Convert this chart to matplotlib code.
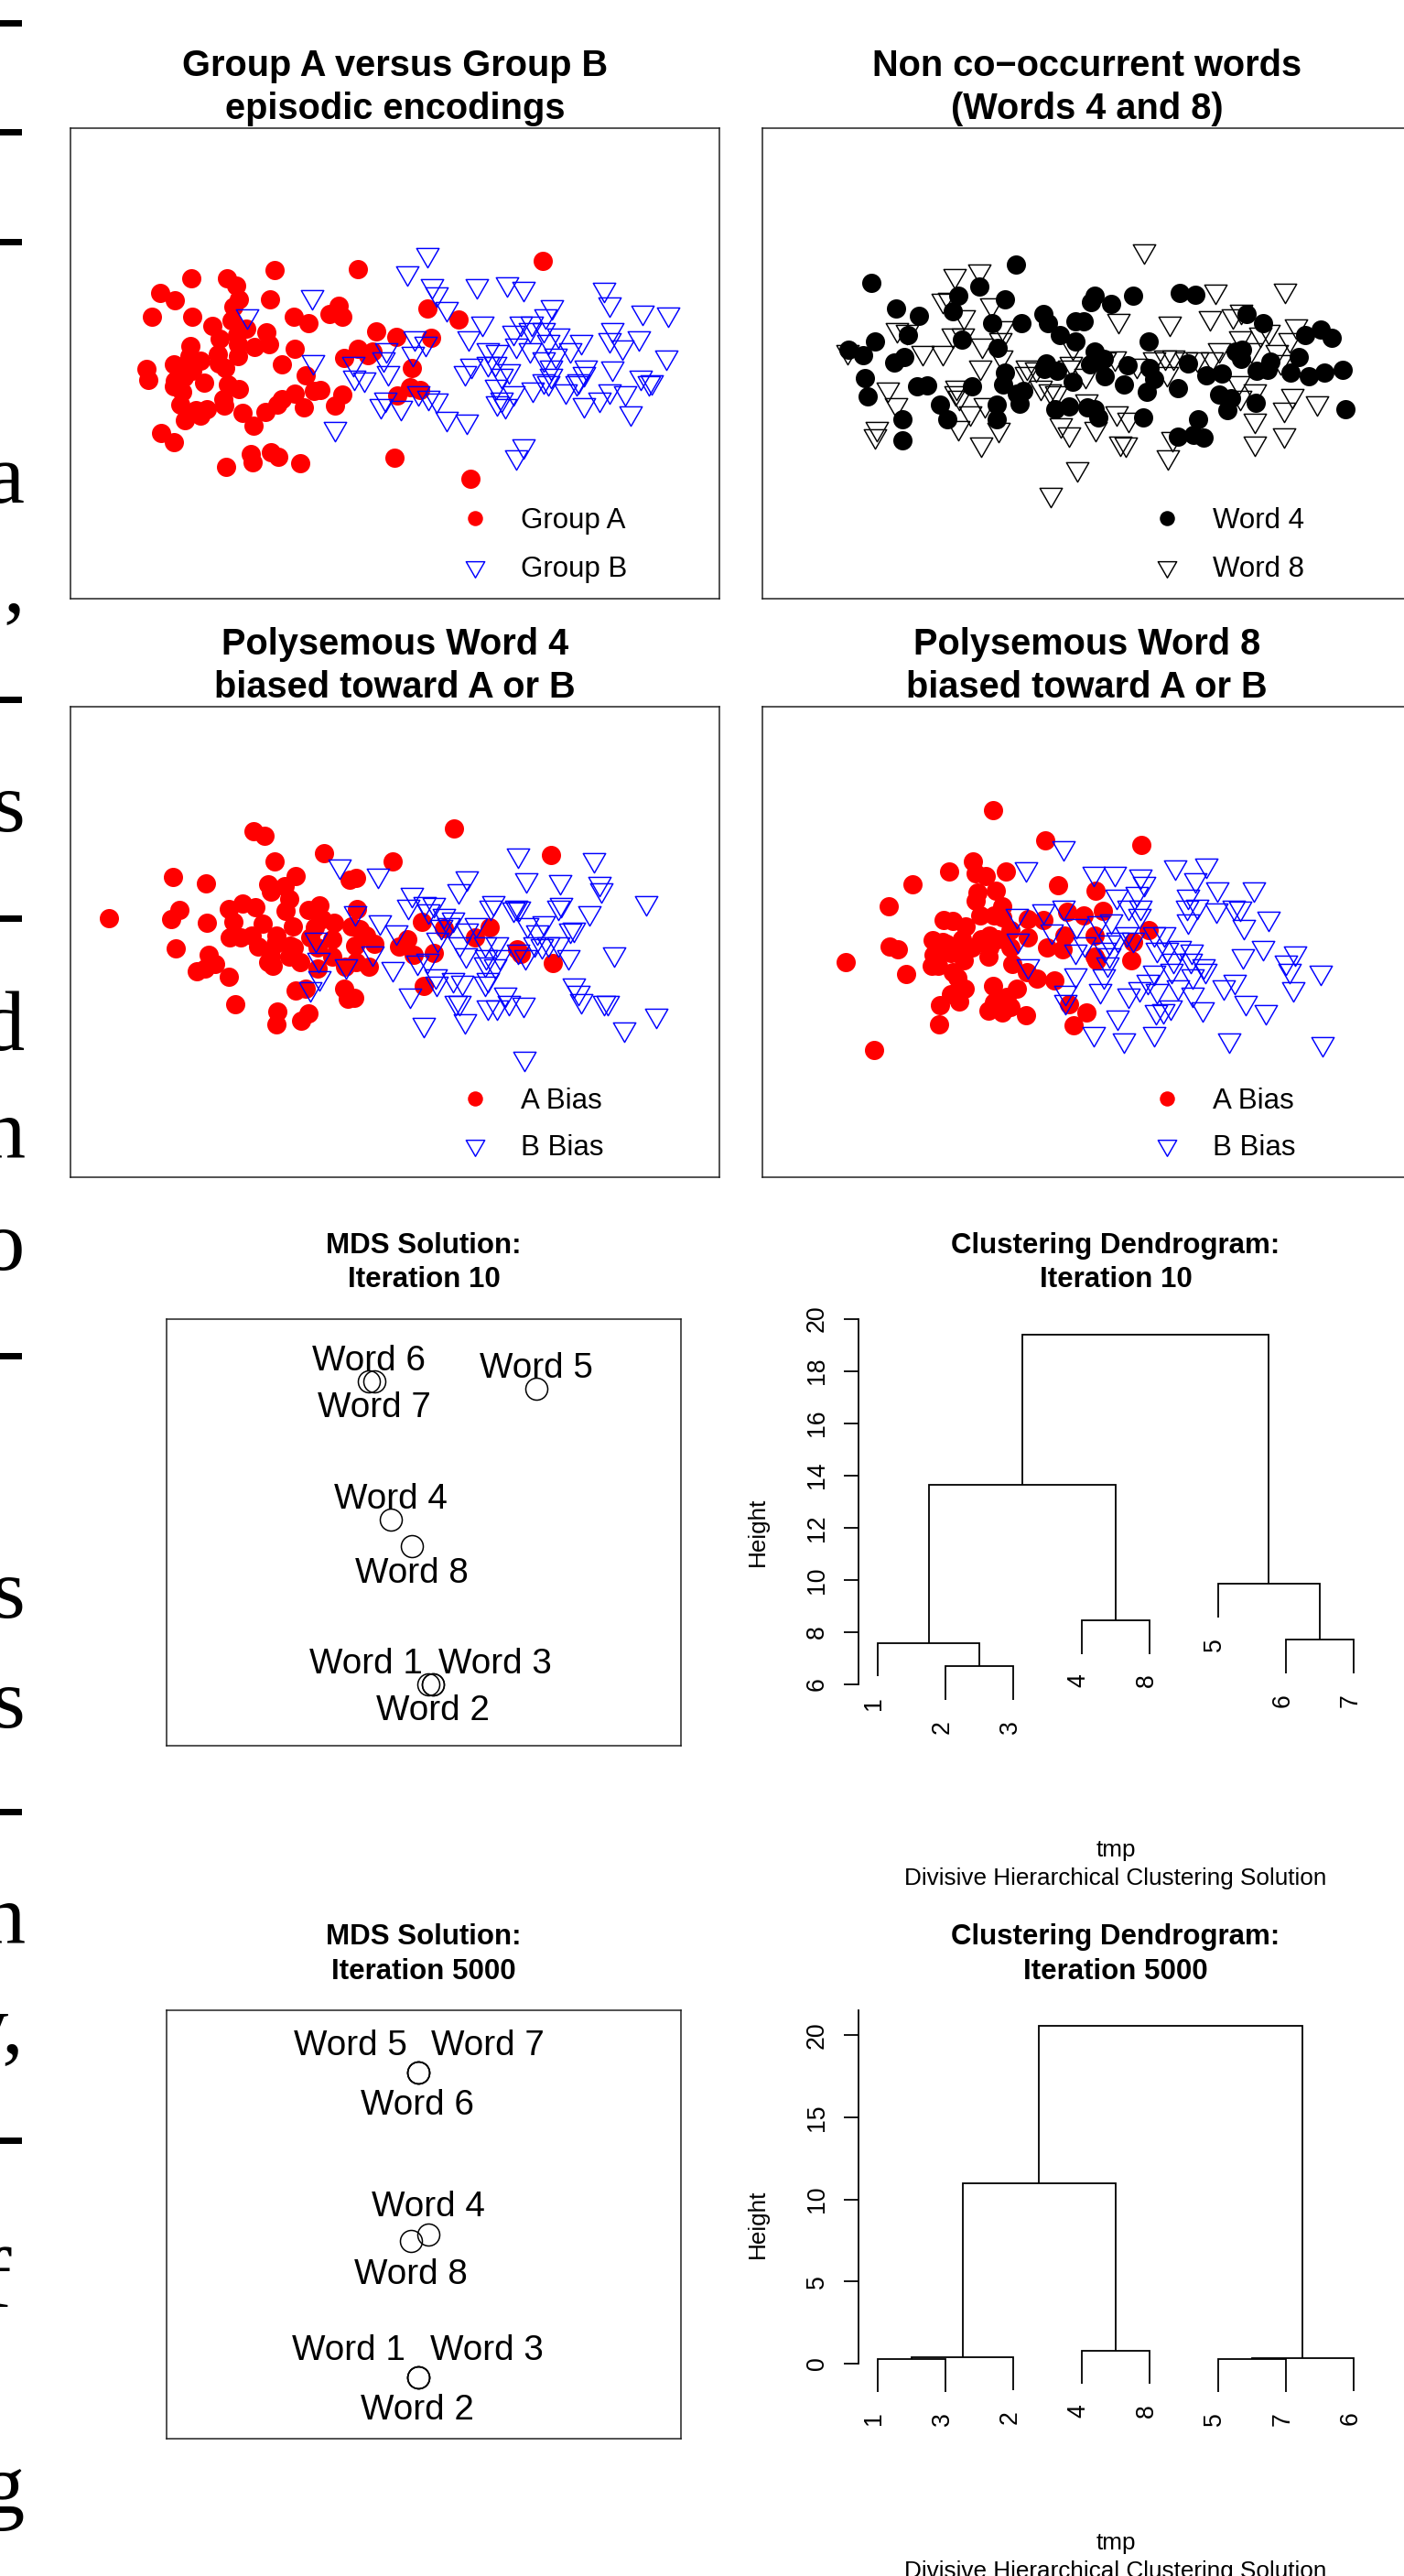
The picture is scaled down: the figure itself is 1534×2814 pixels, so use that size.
import matplotlib
matplotlib.use("Agg")
import matplotlib.pyplot as plt
from matplotlib.lines import Line2D
from matplotlib.path import Path

W, H = 1534, 2814
DPI = 100
plt.rcParams['font.family'] = ['Liberation Sans', 'DejaVu Sans']

# ---- Data (in the arbitrary units of each unlabelled panel)
groupA = [(313,930),(318,957),(343,738),(375,757),(326,798),(410,701),(486,702),(505,719),(512,754),(500,773),(496,806),(412,798),(454,821),(471,853),(528,827),(508,845),(510,868),(408,872),(570,838),(577,866),(545,873),(630,798),(661,814),(579,755),(589,681),(766,679),(706,790),(725,770),(734,798),(806,834),(849,848),(916,776),(982,804),(924,852),(1163,658),(631,878),(604,918),(510,897),(466,893),(468,915),(483,927),(430,908),(405,897),(373,918),(400,925),(412,935),(385,945),(375,960),(373,972),(395,950),(438,963),(488,968),(511,980),(390,988),(387,1020),(420,1033),(430,1048),(444,1030),(396,1058),(478,1005),(481,1022),(519,1040),(568,1038),(595,1020),(604,1005),(632,991),(651,1027),(672,985),(686,982),(654,945),(718,1022),(734,994),(737,901),(767,878),(788,895),(798,886),(882,927),(850,995),(878,975),(900,982),(543,1072),(345,1090),(372,1114),(484,1176),(538,1143),(541,1165),(580,1140),(597,1150),(644,1167),(845,1153),(1008,1207)]
groupB = [(916,640),(872,688),(925,720),(935,740),(957,776),(1021,720),(1087,715),(1122,727),(1294,728),(1306,766),(1183,773),(1168,795),(668,747),(529,795),(1034,813),(1004,850),(888,850),(912,865),(885,890),(828,880),(822,905),(671,910),(757,915),(832,938),(758,950),(781,955),(1010,920),(996,938),(1045,880),(1065,885),(1045,915),(1060,915),(1090,935),(1075,945),(1062,972),(1074,1005),(1065,1015),(1083,1022),(1142,980),(1100,990),(1115,815),(1140,815),(1100,838),(1135,830),(1165,830),(1195,845),(1175,860),(1105,870),(1135,880),(1165,905),(1190,895),(1222,880),(1245,860),(1180,925),(1180,945),(1175,965),(1165,960),(1212,985),(1235,965),(1255,925),(1250,940),(1240,960),(1250,1020),(1285,1005),(1305,985),(1340,990),(1350,1040),(1372,950),(1390,965),(1396,962),(1428,900),(1312,927),(1333,873),(1369,850),(1305,855),(1311,830),(1376,787),(1431,790),(826,1005),(816,1022),(858,1025),(896,990),(918,1000),(936,1008),(957,1053),(1000,1060),(718,1078),(1122,1122),(1105,1150)]
word4 = [(324,712),(383,778),(435,796),(333,861),(270,880),(305,895),(378,914),(402,900),(410,845),(527,744),(577,721),(662,667),(514,785),(606,813),(636,755),(674,813),(726,792),(737,813),(765,843),(800,810),(820,810),(846,745),(838,762),(884,766),(936,746),(1045,739),(1080,743),(1200,791),(1239,814),(1337,845),(1373,830),(1400,850),(1323,900),(1424,931),(1382,938),(1346,948),(1304,939),(1432,1031),(535,856),(619,876),(800,860),(971,860),(845,885),(868,903),(850,912),(835,918),(733,915),(728,930),(757,935),(922,921),(973,928),(985,955),(1064,915),(1107,945),(1142,940),(1175,885),(1190,880),(1188,905),(1223,935),(1255,910),(1250,932),(870,947),(794,962),(914,968),(636,938),(632,968),(680,985),(665,992),(670,1018),(559,973),(454,970),(432,973),(309,953),(316,998),(485,1019),(501,1055),(616,1019),(616,1057),(753,1030),(785,1024),(828,1025),(845,1030),(854,1052),(958,1052),(968,988),(1041,977),(1136,994),(1163,1002),(1156,1032),(1222,1014),(1088,1055),(1041,1099),(1077,1095),(1101,1102),(397,1057),(398,1108)]
word8 = [(960,632),(519,695),(577,682),(1128,733),(1290,730),(490,757),(505,755),(605,768),(540,798),(902,808),(1021,815),(1114,800),(1188,785),(1168,795),(385,830),(408,835),(1316,820),(1185,850),(1232,842),(1252,835),(1300,855),(514,845),(537,845),(625,855),(630,825),(583,870),(268,885),(445,888),(490,888),(628,900),(578,925),(688,925),(708,930),(685,940),(795,875),(790,915),(785,925),(825,945),(870,905),(892,902),(945,920),(985,905),(1010,900),(1030,900),(1060,905),(1085,905),(1120,905),(1137,880),(1210,880),(1270,885),(1280,910),(1015,940),(1182,963),(1220,985),(1185,1000),(1308,995),(1364,1015),(1288,1030),(522,975),(362,980),(520,990),(530,1000),(720,975),(740,985),(755,990),(826,1010),(383,1020),(555,1040),(590,1020),(896,1040),(925,1055),(337,1080),(333,1098),(527,1077),(622,1082),(767,1070),(785,1093),(847,1078),(580,1118),(905,1115),(918,1118),(1028,1105),(1016,1150),(1220,1058),(1220,1115),(1287,1095),(804,1180),(744,1244)]
w4_A = [(234,804),(366,806),(385,781),(376,884),(370,695),(441,712),(444,816),(543,574),(566,586),(588,654),(694,633),(842,654),(973,568),(1181,636),(634,692),(575,713),(580,733),(610,720),(620,752),(612,784),(748,703),(763,696),(764,780),(660,782),(684,770),(520,765),(548,775),(491,780),(500,812),(563,818),(628,825),(690,805),(716,815),(752,825),(770,832),(785,850),(802,870),(675,828),(665,855),(680,880),(492,855),(515,855),(540,850),(552,878),(592,850),(590,870),(622,875),(630,880),(580,905),(575,920),(584,930),(620,905),(643,920),(712,860),(712,905),(760,875),(762,920),(790,932),(740,932),(680,935),(447,900),(460,925),(440,935),(421,943),(490,958),(503,1029),(634,993),(655,988),(737,990),(745,1015),(758,1014),(595,1050),(593,1083),(646,1073),(660,1055),(872,858),(855,878),(903,813),(887,900),(929,896),(907,983),(1018,853),(950,830),(1048,828),(1107,885),(1115,898),(1184,921)]
w4_B = [(728,665),(810,690),(1109,638),(1273,650),(1000,698),(983,730),(1128,703),(1200,708),(1285,712),(1289,728),(1384,762),(882,740),(875,772),(910,765),(930,768),(918,785),(761,788),(814,812),(1056,762),(1050,775),(1105,775),(1112,778),(1100,780),(1202,768),(1195,775),(1262,788),(950,795),(970,805),(945,825),(960,820),(1020,820),(1000,835),(1130,820),(1165,815),(1150,840),(1230,832),(1222,835),(848,840),(938,858),(677,860),(985,870),(1040,870),(1065,870),(1145,870),(1195,870),(1175,870),(1160,875),(1217,905),(1315,898),(683,912),(797,895),(998,900),(1042,905),(1070,905),(1110,890),(1125,905),(895,918),(915,915),(842,935),(742,930),(1040,925),(1060,930),(685,960),(665,990),(934,955),(970,965),(990,972),(935,975),(1045,965),(1040,975),(1230,980),(1240,1000),(1245,1020),(1293,1025),(1302,1025),(878,1005),(1082,1003),(1090,1025),(1121,1030),(1045,1037),(1065,1038),(976,1025),(985,1025),(995,1073),(907,1084),(1406,1060),(1338,1096),(1124,1172)]
w8_A = [(608,519),(731,599),(954,611),(561,654),(505,680),(568,686),(592,692),(639,680),(421,715),(364,773),(614,730),(572,735),(568,757),(760,717),(847,732),(630,773),(578,795),(610,795),(630,800),(494,808),(515,810),(545,825),(690,805),(725,808),(781,787),(820,797),(864,785),(468,862),(490,865),(368,877),(387,886),(535,860),(580,860),(600,850),(620,860),(650,835),(690,855),(650,880),(775,850),(735,880),(770,885),(845,850),(936,865),(972,835),(265,919),(470,900),(490,890),(510,895),(465,930),(480,930),(540,915),(597,905),(653,925),(845,905),(850,915),(932,914),(406,951),(515,945),(525,960),(688,945),(710,962),(752,967),(542,988),(510,1003),(530,1022),(484,1032),(609,981),(665,990),(640,1010),(610,1025),(650,1038),(630,1052),(598,1046),(686,1058),(785,1030),(827,1053),(797,1085),(482,1084),(330,1152),(540,880),(560,880),(600,880),(500,870),(520,880)]
w8_B = [(772,618),(685,672),(843,684),(893,685),(1034,668),(1106,663),(952,692),(962,712),(1080,703),(1133,725),(1217,725),(1064,745),(945,738),(897,745),(773,775),(727,785),(664,797),(1062,775),(1086,772),(1130,782),(1170,775),(1185,778),(1064,810),(952,775),(925,775),(950,795),(1193,825),(1252,803),(802,822),(855,815),(885,810),(745,838),(667,862),(920,845),(985,845),(1008,845),(822,870),(800,890),(880,865),(900,860),(870,885),(880,900),(935,860),(990,885),(1015,885),(1045,880),(1072,890),(1238,880),(1192,903),(1292,918),(1314,895),(875,925),(690,930),(1030,915),(1070,915),(1100,930),(1105,940),(1300,940),(1374,945),(800,953),(868,955),(985,945),(1025,940),(1075,955),(970,970),(1310,988),(778,1000),(858,995),(925,1005),(950,990),(990,995),(1040,985),(1172,970),(1147,985),(1075,1003),(777,1022),(1022,1038),(1005,1048),(988,1050),(1098,1043),(1199,1025),(1246,1050),(899,1065),(843,1107),(985,1108),(915,1125),(1160,1125),(1377,1134)]

mds10_pts = {'Word 1':(917,1088),'Word 2':(927,1088),'Word 3':(928,1088),'Word 4':(837,712),'Word 5':(1149,412),'Word 6':(790,396),'Word 7':(802,396),'Word 8':(882,771)}
mds10_lab = {'Word 1':(783,1063),'Word 2':(927,1170),'Word 3':(1060,1063),'Word 4':(837,686),'Word 5':(1149,387),'Word 6':(790,370),'Word 7':(801,476),'Word 8':(882,855)}
mds5k_pts = {'Word 1':(896,1111),'Word 2':(896,1111),'Word 3':(896,1111),'Word 4':(918,782),'Word 5':(896,410),'Word 6':(896,410),'Word 7':(896,410),'Word 8':(880,797)}
mds5k_lab = {'Word 1':(746,1070),'Word 2':(894,1208),'Word 3':(1043,1070),'Word 4':(917,741),'Word 5':(750,370),'Word 6':(894,507),'Word 7':(1044,370),'Word 8':(880,895)}

# hclust convention: negative = leaf position, positive = earlier merge row
d10_leaves = ['1','2','3','4','8','5','6','7']
d10_merges = [(-2,-3,6.69),(-1,1,7.59),(-4,-5,8.46),(2,3,13.63),(-7,-8,7.71),(-6,5,9.84),(4,6,19.4)]
d5k_leaves = ['1','3','2','4','8','5','7','6']
d5k_merges = [(-1,-2,0.29),(1,-3,0.40),(-4,-5,0.77),(2,3,11.0),(-6,-7,0.29),(5,-8,0.34),(4,6,20.55)]

cut_text = [('\u2010',48,27),('\u2010',167,27),('\u2010',287,27),('a',549,27),(',',668,27),('\u2010',787,27),('s',908,27),('\u2010',1026,27),
            ('d',1147,27),('n',1265,28),('o',1387,27),('\u2010',1504,27),('s',1767,27),('s',1887,27),('\u2010',2002,27),('n',2123,28),
            ('y,',2243,27),('\u2010',2361,27),('f',2520,12),('g',2745,27)]

# ---- Helpers
fig = plt.figure(figsize=(W/DPI, H/DPI), dpi=DPI, facecolor='white')
TRI = Path([(-1, 0.577), (1, 0.577), (0, -1.155), (-1, 0.577)], closed=True)
px = lambda v: v*72/DPI

def axes_px(l, t, r, b):
    return fig.add_axes([l/W, 1-b/H, (r-l)/W, (b-t)/H])

def scatter_panel(box, lims, A, B, names, colA, colB, title, legend_dy):
    ax = axes_px(*box)
    ax.set_xlim(lims[0], lims[1]); ax.set_ylim(lims[2], lims[3])
    ax.set_xticks([]); ax.set_yticks([])
    for s in ax.spines.values():
        s.set_linewidth(1.1); s.set_color('#222222')
    ax.plot(*zip(*A), ls='none', marker='o', ms=px(21), mfc=colA, mec=colA, mew=0)
    ax.plot(*zip(*B), ls='none', marker=TRI, ms=px(28.3), mfc='none', mec=colB, mew=1.05)
    ax.set_title(title, fontsize=28.6, fontweight='bold', pad=7, linespacing=1.3)
    h = [Line2D([], [], ls='none', marker='o', ms=px(16.5), mfc=colA, mec=colA, mew=0),
         Line2D([], [], ls='none', marker=TRI, ms=px(23.5), mfc='none', mec=colB, mew=1.05)]
    bw = box[2]-box[0]
    ax.legend(h, names, loc='lower left', frameon=False, fontsize=22.5, borderpad=0, borderaxespad=0,
              handlelength=1.0, handletextpad=1.09, labelspacing=legend_dy,
              bbox_to_anchor=((box[2]-267-15.7-box[0])/bw, 0.033))
    return ax

def mds_panel(box, lims, pts, lab, title):
    ax = axes_px(*box)
    ax.set_xlim(lims[0], lims[1]); ax.set_ylim(lims[2], lims[3])
    ax.set_xticks([]); ax.set_yticks([])
    for s in ax.spines.values():
        s.set_linewidth(1.1); s.set_color('#222222')
    for k, (x, y) in pts.items():
        ax.plot([x], [y], ls='none', marker='o', ms=px(24), mfc='none', mec='black', mew=1.1)
    for k, (x, y) in lab.items():
        ax.text(x, y, k, fontsize=27.8, ha='center', va='baseline')
    ax.set_title(title, fontsize=22.5, fontweight='bold', pad=24.5, linespacing=1.33)
    return ax

def dendro_panel(box, ylim, ticks, leaves, merges, hang, title):
    ax = axes_px(*box)
    ax.set_xlim(1-0.28, len(leaves)+0.28); ax.set_ylim(*ylim)
    ax.set_xticks([])
    ax.set_yticks(ticks)
    ax.set_yticklabels([str(t) for t in ticks], rotation=90, va='center', fontsize=19.2)
    ax.tick_params(axis='y', length=px(16.3), width=1.3, pad=px(16))
    for n in ('top', 'right', 'bottom'):
        ax.spines[n].set_visible(False)
    ax.spines['left'].set_linewidth(1.3)
    ax.spines['left'].set_bounds(ticks[0], ylim[1] if ticks[-1] < ylim[1] else ticks[-1])
    ax.patch.set_alpha(0)
    nodes = {}
    for i, (a, b, hgt) in enumerate(merges, start=1):
        ends = []
        for c in (a, b):
            if c < 0:
                xc = -c
                yb = hgt-hang
                ax.annotate(leaves[xc-1], (xc, yb), xytext=(-px(3.5), -px(22)), textcoords='offset points',
                            rotation=90, ha='center', va='top', fontsize=19.2)
            else:
                xc, yb = nodes[c]
            ends.append((xc, yb))
        ax.plot([ends[0][0], ends[0][0], ends[1][0], ends[1][0]], [ends[0][1], hgt, hgt, ends[1][1]],
                color='black', lw=1.3, solid_joinstyle='miter', solid_capstyle='butt', clip_on=False)
        nodes[i] = ((ends[0][0]+ends[1][0])/2, hgt)
    ax.set_title(title, fontsize=22.5, fontweight='bold', pad=24.5, linespacing=1.33)
    bw, bh = box[2]-box[0], box[3]-box[1]
    ax.text(-(938-840)/bw, 0.5, 'Height', transform=ax.transAxes, rotation=90, ha='right', va='center', fontsize=18.8)
    ax.text(0.5, -121/bh, 'tmp', transform=ax.transAxes, ha='center', va='baseline', fontsize=18.8, clip_on=False)
    ax.text(0.5, -152/bh, 'Divisive Hierarchical Clustering Solution', transform=ax.transAxes,
            ha='center', va='baseline', fontsize=18.8, clip_on=False)
    return ax

# ---- Panels
scatter_panel((77,140,786,653.6), (151,1541,1507,323), groupA, groupB, ['Group A','Group B'],
              '#ff0000', '#0000ff', 'Group A versus Group B\nepisodic encodings', 0.72)
scatter_panel((833,140,1542,653.6), (70,1585,1507,323), word4, word8, ['Word 4','Word 8'],
              '#000000', '#000000', 'Non co\u2212occurrent words\n(Words 4 and 8)', 0.72)
scatter_panel((77,771.6,786,1285.5), (151,1541,1485,245), w4_A, w4_B, ['A Bias','B Bias'],
              '#ff0000', '#0000ff', 'Polysemous Word 4\nbiased toward A or B', 0.66)
scatter_panel((833,771.6,1542,1285.5), (70,1585,1485,245), w8_A, w8_B, ['A Bias','B Bias'],
              '#ff0000', '#0000ff', 'Polysemous Word 8\nbiased toward A or B', 0.66)

mds_panel((182,1440.5,744,1907), (357,1458,1228,252), mds10_pts, mds10_lab, 'MDS Solution:\nIteration 10')
mds_panel((182,2196,744,2663.6), (357,1458,1251,266), mds5k_pts, mds5k_lab, 'MDS Solution:\nIteration 5000')

dendro_panel((938,1440.5,1500,1907), (3.65,20.0), [6,8,10,12,14,16,18,20], d10_leaves, d10_merges, 1.29,
             'Clustering Dendrogram:\nIteration 10')
dendro_panel((938,2196,1500,2663.6), (-4.55,21.52), [0,5,10,15,20], d5k_leaves, d5k_merges, 2.0,
             'Clustering Dendrogram:\nIteration 5000')

# ---- Cut-off page text at the left edge
for ch, y, xr in cut_text:
    fig.text(xr/W, 1-y/H, ch, family=['Liberation Serif'], fontsize=68, ha='right', va='baseline', color='black')

fig.savefig('out.png', dpi=DPI, facecolor='white')
